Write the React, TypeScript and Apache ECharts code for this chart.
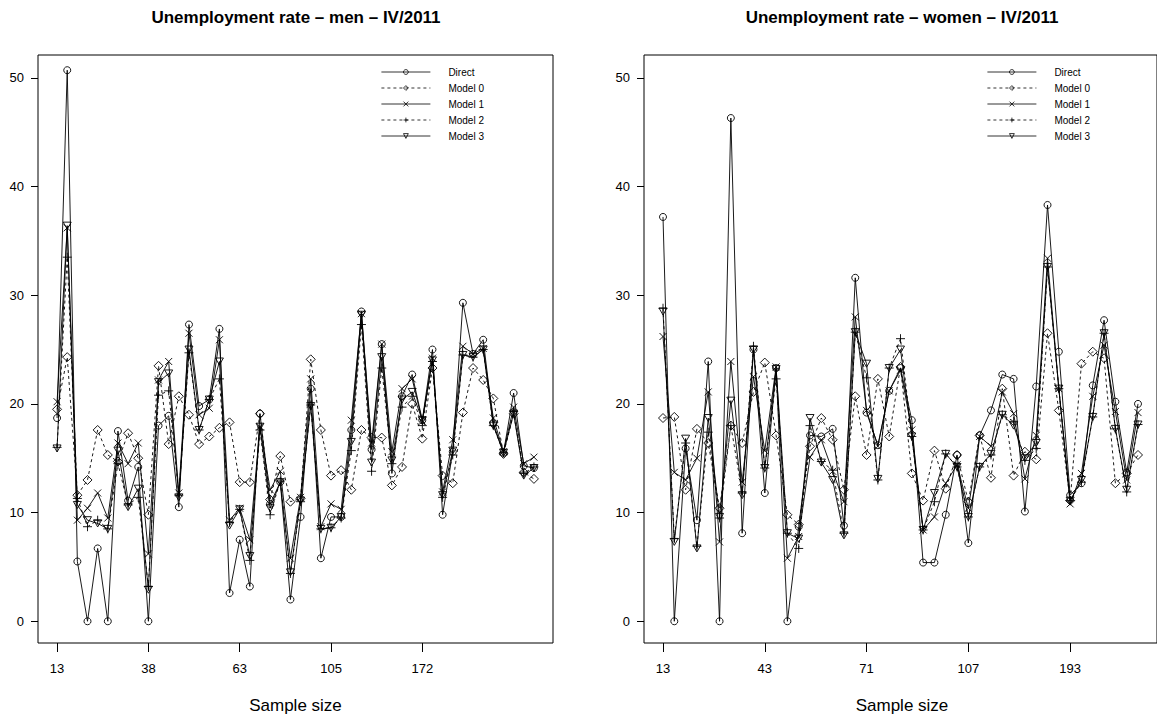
import React, { useEffect, useRef } from "react";
import * as echarts from "echarts";

const seriesNames = ["Direct", "Model 0", "Model 1", "Model 2", "Model 3"];
const menTickIndex = [0, 9, 18, 27, 36];
const menTickLabels = ["13", "38", "63", "105", "172"];
const womenTickIndex = [0, 9, 18, 27, 36];
const womenTickLabels = ["13", "43", "71", "107", "193"];
const yTicks = [0, 10, 20, 30, 40, 50];

// Men, 48 domains
const menDirect = [18.7, 50.7, 5.5, 0, 6.7, 0, 17.5, 11.1, 14.2, 0, 18.0, 18.9, 10.5, 27.3, 19.8, 20.4, 26.9, 2.6, 7.5, 3.2, 19.1, 10.8, 12.8, 2.0, 9.6, 21.4, 5.8, 9.6, 9.6, 17.6, 28.5, 15.8, 25.5, 13.6, 20.7, 22.7, 18.5, 25.0, 9.8, 15.6, 29.3, 24.6, 25.9, 18.2, 15.5, 21.0, 14.3, 14.1];
const menModel0 = [19.5, 24.3, 11.6, 13.0, 17.6, 15.3, 14.7, 17.3, 15.0, 9.8, 23.5, 16.3, 20.7, 19.0, 16.3, 17.0, 17.8, 18.3, 12.8, 12.8, 19.1, 11.2, 15.2, 11.0, 11.3, 24.1, 17.6, 13.4, 13.9, 12.1, 17.6, 16.9, 16.9, 12.5, 14.2, 20.0, 16.8, 23.3, 13.4, 12.7, 19.2, 23.3, 22.2, 20.5, 15.4, 19.1, 13.7, 13.1];
const menModel1 = [20.2, 36.2, 9.3, 10.4, 11.8, 9.5, 16.4, 14.5, 16.4, 6.2, 22.2, 23.9, 11.8, 26.5, 19.0, 19.6, 25.9, 9.3, 10.4, 7.5, 17.9, 12.1, 13.8, 5.8, 11.4, 22.3, 8.7, 10.8, 10.3, 18.5, 28.3, 16.4, 25.5, 15.6, 21.4, 22.3, 18.4, 24.2, 11.9, 16.7, 25.3, 24.6, 25.1, 18.7, 15.6, 19.7, 14.5, 15.1];
const menModel2 = [16.0, 33.5, 11.3, 8.7, 9.3, 8.5, 14.5, 10.7, 11.4, 3.2, 20.8, 21.2, 11.6, 24.7, 17.6, 20.4, 22.3, 9.1, 10.3, 5.6, 17.6, 9.8, 12.9, 4.4, 11.0, 19.9, 8.5, 8.6, 9.5, 15.7, 27.3, 13.8, 23.3, 14.5, 19.7, 20.7, 18.0, 23.9, 11.4, 15.3, 24.5, 24.3, 25.0, 18.0, 15.5, 19.3, 13.6, 14.2];
const menModel3 = [15.9, 36.4, 10.7, 9.3, 9.0, 8.5, 15.7, 10.5, 12.2, 2.9, 22.0, 22.8, 11.4, 25.0, 17.6, 20.4, 23.9, 8.8, 10.3, 6.0, 17.9, 10.4, 12.8, 4.5, 11.1, 19.8, 8.5, 8.6, 9.6, 16.5, 28.2, 14.6, 24.3, 14.8, 20.4, 21.1, 18.5, 24.0, 11.6, 15.7, 24.5, 24.3, 25.0, 18.0, 15.5, 19.1, 13.4, 14.1];

// Women, 43 domains
const womenDirect = [37.2, 0, 15.9, 9.3, 23.9, 0, 46.3, 8.1, 25.0, 11.8, 23.3, 0, 8.7, 17.1, 17.0, 17.7, 8.8, 31.6, 19.2, 16.2, 21.2, 23.3, 18.5, 5.4, 5.4, 9.8, 15.3, 7.2, 17.1, 19.4, 22.7, 22.3, 10.1, 21.6, 38.3, 24.8, 11.6, 12.7, 21.7, 27.7, 20.2, 13.7, 20.0];
const womenModel0 = [18.7, 18.8, 12.1, 17.7, 16.4, 10.4, 18.0, 16.4, 21.1, 23.8, 17.1, 9.8, 8.9, 16.1, 18.7, 16.7, 12.1, 20.7, 15.3, 22.3, 17.0, 23.4, 13.6, 11.1, 15.7, 12.2, 15.3, 11.0, 17.1, 13.2, 21.4, 13.4, 15.6, 14.9, 26.5, 19.4, 11.1, 23.7, 24.8, 24.2, 12.7, 13.6, 15.3];
const womenModel1 = [26.2, 13.7, 13.0, 15.0, 21.1, 7.3, 23.9, 12.8, 22.5, 15.7, 23.4, 5.8, 7.8, 15.1, 16.7, 13.8, 11.0, 28.0, 19.4, 16.1, 21.2, 23.1, 17.6, 8.4, 9.6, 12.7, 14.4, 10.4, 17.0, 16.1, 21.1, 19.1, 13.1, 17.1, 33.4, 21.4, 10.8, 13.6, 20.7, 25.4, 19.3, 13.0, 19.2];
const womenModel2 = [28.8, 7.6, 16.4, 6.9, 17.4, 9.5, 18.0, 11.8, 25.3, 14.1, 22.3, 8.1, 6.7, 18.0, 14.7, 13.9, 8.1, 26.6, 22.4, 13.0, 23.3, 26.0, 17.0, 8.4, 11.0, 15.4, 14.2, 9.6, 14.2, 15.3, 19.0, 18.4, 14.8, 15.9, 32.6, 21.4, 11.1, 12.8, 18.8, 26.5, 17.7, 11.9, 18.1];
const womenModel3 = [28.5, 7.3, 16.8, 6.7, 18.7, 9.6, 20.3, 11.6, 25.0, 14.1, 23.2, 8.1, 7.6, 18.7, 14.6, 13.0, 7.9, 26.6, 23.7, 13.1, 23.3, 25.0, 17.0, 8.4, 11.8, 15.4, 14.2, 9.6, 14.2, 15.4, 19.0, 18.0, 15.0, 16.4, 32.6, 21.4, 11.1, 13.0, 18.8, 26.5, 17.7, 12.1, 18.1];

const FONT = "'Liberation Sans', Arial, Helvetica, sans-serif";

const symbols = [
  "circle",
  "diamond",
  "path://M0,0L1,1M1,0L0,1",
  "path://M0.5,0L0.5,1M0,0.5L1,0.5",
  "path://M0,0L1,0L0.5,0.866Z",
];
const symbolSizes: any[] = [7, 9, 7, 9, [8, 7]];
const lineTypes: any[] = ["solid", [3, 3], "solid", [3, 3], "solid"];

function buildSeries(panel: number, sets: number[][]) {
  return sets.map((vals, k) => ({
    type: "line",
    name: seriesNames[k],
    xAxisIndex: panel,
    yAxisIndex: panel,
    data: vals.map((v, i) => [i, v]),
    symbol: symbols[k],
    symbolSize: symbolSizes[k],
    showAllSymbol: true,
    lineStyle: { color: "#000", width: 0.9, type: lineTypes[k] },
    itemStyle: { color: "rgba(255,255,255,0)", borderColor: "#000", borderWidth: 0.9 },
    emphasis: { disabled: true },
    z: 2 + k,
  }));
}

function xAxis(panel: number, n: number, idx: number[], labels: string[]) {
  const pad = 0.04 * (n - 1);
  return {
    type: "value",
    gridIndex: panel,
    position: "bottom",
    min: -pad,
    max: n - 1 + pad,
    axisLine: { show: false, onZero: false },
    splitLine: { show: false },
    axisTick: { show: true, inside: false, length: 9, customValues: idx, lineStyle: { color: "#000", width: 1 } },
    axisLabel: {
      customValues: idx,
      margin: 19,
      fontSize: 13,
      fontFamily: FONT,
      color: "#000",
      formatter: (v: number) => labels[idx.indexOf(Math.round(v))] ?? "",
    },
  };
}

function yAxis(panel: number) {
  return {
    type: "value",
    gridIndex: panel,
    position: "left",
    min: -2.0,
    max: 52.1,
    axisLine: { show: false, onZero: false },
    splitLine: { show: false },
    axisTick: { show: true, inside: false, length: 7, customValues: yTicks, lineStyle: { color: "#000", width: 1 } },
    axisLabel: {
      customValues: yTicks,
      margin: 14,
      fontSize: 13,
      fontFamily: FONT,
      color: "#000",
    },
  };
}

function legend(left: number) {
  return {
    data: seriesNames,
    orient: "vertical",
    left,
    top: 66,
    padding: 0,
    itemWidth: 49,
    itemHeight: 6,
    itemGap: 4,
    selectedMode: false,
    itemStyle: { color: "rgba(255,255,255,0)", borderColor: "#000", borderWidth: 0.8 },
    lineStyle: { color: "#000", width: 0.8 },
    textStyle: { fontSize: 10, fontFamily: FONT, color: "#000", lineHeight: 12, padding: [0, 0, 0, 13] },
  };
}

export default function App() {
  const ref = useRef<HTMLDivElement>(null);
  useEffect(() => {
    if (!ref.current) return;
    const chart = echarts.init(ref.current, undefined, { renderer: "svg" });
    const grids = [
      { left: 38, top: 55, width: 515, height: 588 },
      { left: 644, top: 55, width: 516, height: 588 },
    ].map((g) => ({ ...g, show: true, borderColor: "#000", borderWidth: 1, backgroundColor: "transparent", containLabel: false }));
    chart.setOption({
      animation: false,
      backgroundColor: "#fff",
      grid: grids,
      xAxis: [
        xAxis(0, menDirect.length, menTickIndex, menTickLabels),
        xAxis(1, womenDirect.length, womenTickIndex, womenTickLabels),
      ],
      yAxis: [yAxis(0), yAxis(1)],
      legend: [legend(381), legend(987)],
      series: [
        ...buildSeries(0, [menDirect, menModel0, menModel1, menModel2, menModel3]),
        ...buildSeries(1, [womenDirect, womenModel0, womenModel1, womenModel2, womenModel3]),
      ],
      graphic: [
        { type: "text", x: 296, y: 17, style: { text: "Unemployment rate – men – IV/2011", font: `bold 17px ${FONT}`, fill: "#000", align: "center", verticalAlign: "middle" } },
        { type: "text", x: 902, y: 17, style: { text: "Unemployment rate – women – IV/2011", font: `bold 17px ${FONT}`, fill: "#000", align: "center", verticalAlign: "middle" } },
        { type: "text", x: 295.5, y: 705, style: { text: "Sample size", font: `17px ${FONT}`, fill: "#000", align: "center", verticalAlign: "middle" } },
        { type: "text", x: 902, y: 705, style: { text: "Sample size", font: `17px ${FONT}`, fill: "#000", align: "center", verticalAlign: "middle" } },
      ],
    });
    return () => chart.dispose();
  }, []);
  return <div ref={ref} style={{ position: "absolute", left: 0, top: 0, width: 1157, height: 722 }} />;
}
